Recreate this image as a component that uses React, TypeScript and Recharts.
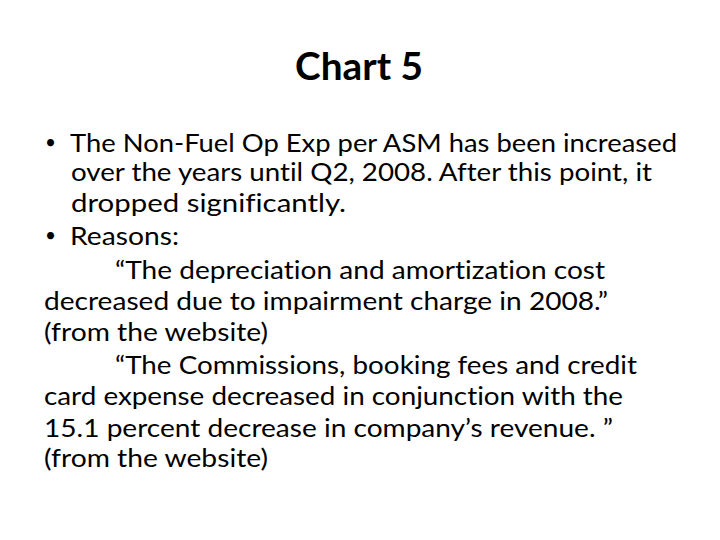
import { Surface, Layer } from "recharts";

// slide content
const title = "Chart 5";
const bodyLines = [
  "The Non-Fuel Op Exp per ASM has been increased",
  "over the years until Q2, 2008. After this point, it",
  "dropped significantly.",
  "Reasons:",
  "\u201CThe depreciation and amortization cost",
  "decreased due to impairment charge in 2008.\u201D",
  "(from the website)",
  "\u201CThe Commissions, booking fees and credit",
  "card expense decreased in conjunction with the",
  "15.1 percent decrease in company\u2019s revenue. \u201D",
  "(from the website)",
];
const bulletedLines = [0, 3];

// layout measured off the slide: [x, baseline, width]
const lineBox: [number, number, number][] = [
  [70, 152, 607],
  [71, 181, 581],
  [71, 212, 275],
  [70, 245, 109],
  [115, 279, 490],
  [44, 310, 564],
  [44, 341, 224],
  [115, 374, 522],
  [44, 405, 579],
  [44, 437, 569],
  [44, 467, 224],
];

const FONT = "Lato, 'Open Sans', sans-serif";
const noLig = { fontVariantLigatures: "none", fontFeatureSettings: "'liga' 0, 'clig' 0" } as const;

export default function App() {
  return (
    <div style={{ position: "absolute", left: 0, top: 0, width: 720, height: 540, background: "#fff" }}>
      <Surface width={720} height={540}>
        <Layer>
          <text
            x={295}
            y={80}
            textLength={128}
            lengthAdjust="spacingAndGlyphs"
            fontFamily={FONT}
            fontWeight={700}
            fontSize={38}
            fill="#000"
            style={noLig}
          >
            {title}
          </text>
        </Layer>
        <Layer>
          {bodyLines.map((line, i) => {
            const [x, y, w] = lineBox[i];
            return (
              <g key={i}>
                {bulletedLines.includes(i) && (
                  <text x={45} y={y - 3} fontFamily={FONT} fontSize={19} fill="#000">
                    {"\u2022"}
                  </text>
                )}
                <text
                  x={x}
                  y={y}
                  textLength={w}
                  lengthAdjust="spacingAndGlyphs"
                  fontFamily={FONT}
                  fontSize={25}
                  fill="#000"
                  style={noLig}
                >
                  {line}
                </text>
              </g>
            );
          })}
        </Layer>
      </Surface>
    </div>
  );
}
